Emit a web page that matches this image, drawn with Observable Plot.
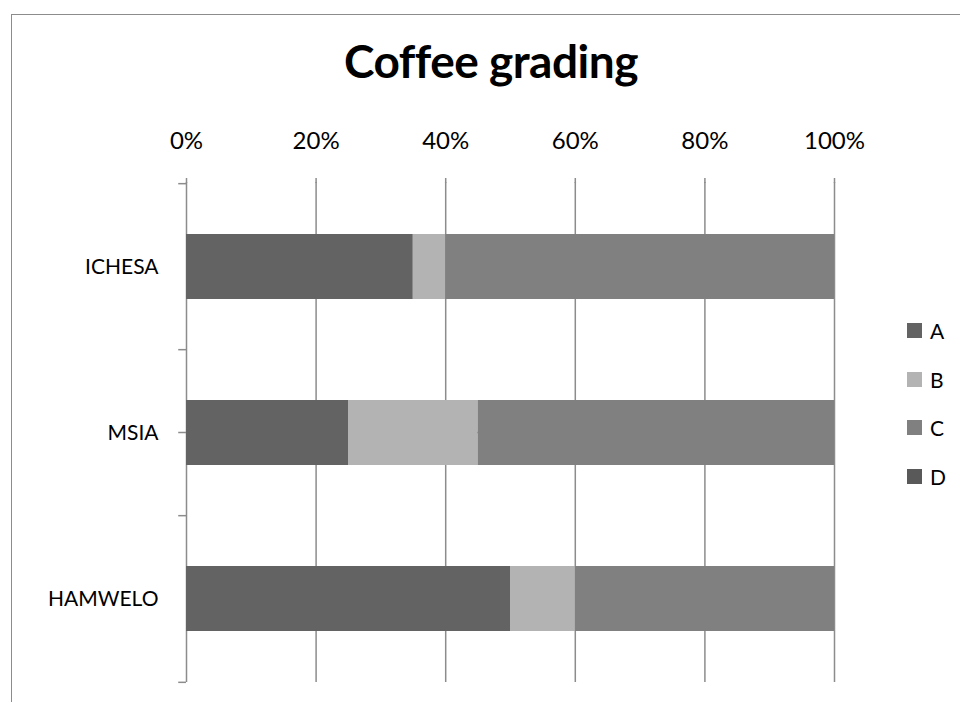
<!DOCTYPE html>
<html>
<head>
<meta charset="utf-8">
<script src="https://cdn.jsdelivr.net/npm/d3@7"></script>
<script src="https://cdn.jsdelivr.net/npm/@observablehq/plot@0.6"></script>
<style>
  body { margin: 0; background: #fff; }
  #wrap { position: relative; width: 960px; height: 702px; overflow: hidden; font-family: Lato, "Open Sans", sans-serif; }
  #frame { position: absolute; left: 11px; top: 14px; width: 1000px; height: 800px; border-left: 1.5px solid #8c8c8c; border-top: 1.5px solid #8c8c8c; }
  #title { position: absolute; left: 11px; width: 960px; top: 38px; line-height: 46px; text-align: center; font-size: 46px; font-weight: bold; color: #000; letter-spacing: -0.5px; }
  #chart { position: absolute; left: 0; top: 0; }
  #legend { position: absolute; left: 907px; top: 306px; }
  .li { display: flex; align-items: center; height: 48.7px; font-size: 21px; color: #000; }
  .sw { width: 15px; height: 15px; margin-right: 8px; }
</style>
</head>
<body>
<div id="wrap">
  <div id="frame"></div>
  <div id="title">Coffee grading</div>
  <div id="chart"></div>
  <div id="legend"></div>
</div>
<script>
const categories = ["ICHESA", "MSIA", "HAMWELO"];
const series = ["A", "B", "C", "D"];
const valuesA = [35, 25, 50];
const valuesB = [5, 20, 10];
const valuesC = [60, 55, 40];
const valuesD = [0, 0, 0];
const colors = ["#636363", "#b3b3b3", "#808080", "#595959"];
const tickValues = [0, 0.2, 0.4, 0.6, 0.8, 1];

const all = [valuesA, valuesB, valuesC, valuesD];
const data = [];
categories.forEach((c, i) => {
  const total = all.reduce((s, arr) => s + arr[i], 0);
  series.forEach((s, j) => data.push({cat: c, series: s, value: all[j][i] / total}));
});

const plotH = 500;
const band = plotH / categories.length;
const gridColor = "#8c8c8c";

const chart = Plot.plot({
  width: 960,
  height: 702,
  marginLeft: 186,
  marginRight: 126,
  marginTop: 182,
  marginBottom: 20,
  style: {fontFamily: "Lato, 'Open Sans', sans-serif", background: "transparent"},
  x: {domain: [0, 1], axis: null, label: null},
  y: {domain: categories, paddingInner: 0.61, paddingOuter: 0.305, axis: null, label: null},
  color: {domain: series, range: colors},
  marks: [
    Plot.ruleX(tickValues, {x: d => d, stroke: gridColor, strokeWidth: 1.5}),
    Plot.ruleY([0], {y: null, x1: -0.012, x2: 1, frameAnchor: "top", stroke: gridColor, strokeWidth: 1.5}),
    Plot.barX(data, Plot.stackX({x: "value", y: "cat", fill: "series", order: series})),
    Plot.ruleY(categories, {y: d => d, x1: -0.012, x2: 0, dy: -band / 2, stroke: gridColor, strokeWidth: 1.5, clip: false}),
    Plot.ruleY([categories[categories.length - 1]], {y: d => d, x1: -0.012, x2: 0, dy: band / 2, stroke: gridColor, strokeWidth: 1.5, clip: false}),
    Plot.axisX(tickValues, {anchor: "top", label: null, tickSize: 5, tickPadding: 29, tickFormat: d => Math.round(d * 100) + "%", fontSize: 24, stroke: gridColor, strokeWidth: 1.5, color: "#000"}),
    Plot.axisY({anchor: "left", label: null, tickSize: 0, tickPadding: 28, fontSize: 21, color: "#000"})
  ]
});
document.getElementById("chart").appendChild(chart);

const legend = document.getElementById("legend");
series.forEach((s, j) => {
  const row = document.createElement("div");
  row.className = "li";
  const sw = document.createElement("div");
  sw.className = "sw";
  sw.style.background = colors[j];
  row.appendChild(sw);
  row.appendChild(document.createTextNode(s));
  legend.appendChild(row);
});
</script>
</body>
</html>
